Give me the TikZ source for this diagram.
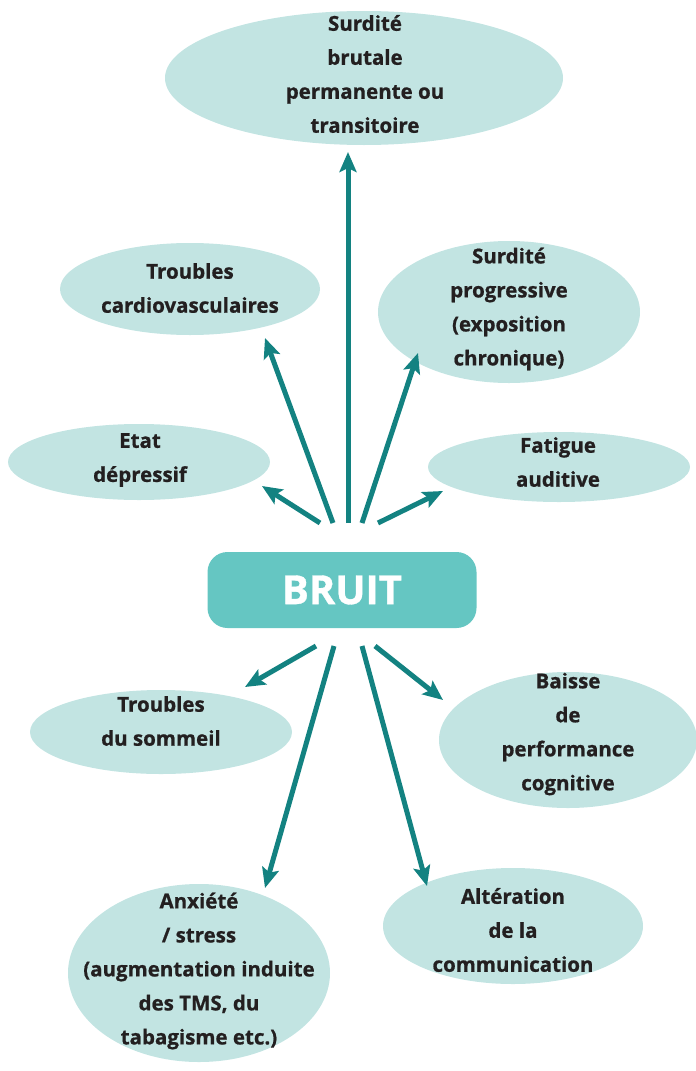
\documentclass[tikz,border=0pt]{standalone}
\usepackage{fontspec}
\setmainfont{Open Sans}[BoldFont={Open Sans Bold}, BoldFeatures={FakeBold=0.8}]
\usetikzlibrary{shapes.geometric,arrows.meta}
\definecolor{ellfill}{HTML}{C2E4E2}
\definecolor{boxfill}{HTML}{65C6C2}
\definecolor{arrcol}{HTML}{138281}
\definecolor{txt}{HTML}{231F20}
\tikzset{
  bubble/.style={ellipse, fill=ellfill, draw=none, inner sep=0pt},
  label/.style={align=center, text=txt, inner sep=0pt, font=\bfseries\fontsize{20.5}{34}\selectfont},
  conn/.style={draw=arrcol, line width=5pt, -{Stealth[length=20pt,width=17pt,inset=4pt]}},
}
\begin{document}
\begin{tikzpicture}[x=1pt,y=-1pt]
\useasboundingbox (0,0) rectangle (696,1071);
% bubbles
\node[bubble, minimum width=398pt, minimum height=134pt] (e1) at (364,78) {};
\node[label] (t1) at (365,74) {Surdité\\brutale\\permanente ou\\transitoire};
\node[bubble, minimum width=260pt, minimum height=92pt] (e2) at (190,289) {};
\node[label] (t2) at (190,288) {Troubles\\cardiovasculaires};
\node[bubble, minimum width=262pt, minimum height=142pt] (e3) at (509,312) {};
\node[label] (t3) at (509,309) {Surdité\\progressive\\(exposition\\chronique)};
\node[bubble, minimum width=262pt, minimum height=76pt] (e4) at (139,462) {};
\node[label] (t4) at (140,460) {Etat\\dépressif};
\node[bubble, minimum width=262pt, minimum height=70pt] (e5) at (559,467) {};
\node[label] (t5) at (558,462) {Fatigue\\auditive};
\node[bubble, minimum width=262pt, minimum height=84pt] (e6) at (161,732) {};
\node[label] (t6) at (161,721) {Troubles\\du sommeil};
\node[bubble, minimum width=258pt, minimum height=136pt] (e7) at (568,740) {};
\node[label] (t7) at (568,734) {Baisse\\de\\performance\\cognitive};
\node[bubble, minimum width=262pt, minimum height=178pt] (e8) at (199,973) {};
\node[label] (t8) at (199,971) {Anxiété\\/ stress\\(augmentation induite\\des TMS, du\\tabagisme etc.)};
\node[bubble, minimum width=260pt, minimum height=116pt] (e9) at (513,926) {};
\node[label] (t9) at (513,930) {Altération\\de la\\communication};
% central box
\node[rounded corners=20pt, fill=boxfill, minimum width=269pt, minimum height=76pt, inner sep=0pt,
      text=white, font=\bfseries\fontsize{40}{40}\selectfont] (b) at (342,590) {BRUIT};
% connector end points
\coordinate (s1) at (348,523); \coordinate (p1) at (348,152);
\coordinate (s2) at (333,523); \coordinate (p2) at (265,338);
\coordinate (s3) at (362,523); \coordinate (p3) at (418,353);
\coordinate (s4) at (320,523); \coordinate (p4) at (262,486);
\coordinate (s5) at (378,523); \coordinate (p5) at (443,491);
\coordinate (s6) at (316,646); \coordinate (p6) at (245,687);
\coordinate (s7) at (334,646); \coordinate (p7) at (265,888);
\coordinate (s8) at (362,646); \coordinate (p8) at (427,886);
\coordinate (s9) at (375,646); \coordinate (p9) at (443,700);
\foreach \i in {1,...,9} \draw[conn] (s\i) -- (p\i);
\end{tikzpicture}
\end{document}
